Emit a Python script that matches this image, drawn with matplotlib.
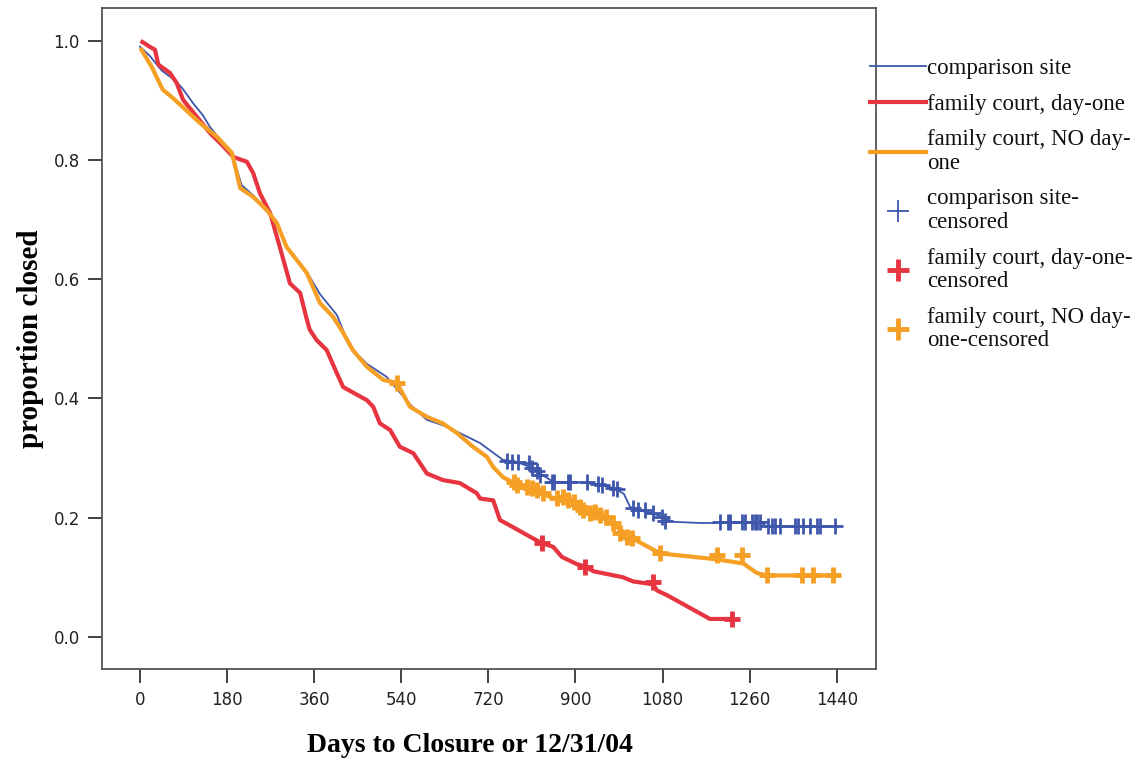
import matplotlib
matplotlib.use("Agg")

import matplotlib.pyplot as plt
from matplotlib.lines import Line2D


# Kaplan-Meier style curves
days_cmp = [0, 20, 45, 70, 87, 110, 130, 145, 170, 190, 200, 210, 235, 262, 283, 303,
            345, 372, 407, 434, 469, 510, 558, 593, 626, 661, 703, 750, 780, 806, 827,
            854, 900, 951, 978, 1000, 1013, 1027, 1060, 1081, 1102, 1157, 1285, 1295, 1440]
p_cmp = [0.99, 0.975, 0.95, 0.935, 0.921, 0.895, 0.875, 0.855, 0.83, 0.812, 0.785, 0.758,
         0.74, 0.716, 0.694, 0.655, 0.612, 0.575, 0.54, 0.486, 0.458, 0.436, 0.39, 0.364,
         0.355, 0.342, 0.325, 0.297, 0.293, 0.285, 0.274, 0.26, 0.26, 0.255, 0.25, 0.24,
         0.218, 0.213, 0.207, 0.201, 0.193, 0.191, 0.191, 0.185, 0.185]

days_d1 = [5, 20, 31, 38, 62, 76, 89, 120, 145, 170, 193, 221, 234, 248, 269, 289, 310,
           331, 345, 351, 365, 386, 407, 420, 469, 482, 496, 517, 537, 565, 593, 626, 661,
           696, 703, 730, 744, 771, 806, 831, 854, 872, 903, 920, 937, 998, 1019, 1061,
           1068, 1089, 1178, 1223]
p_d1 = [0.998, 0.99, 0.985, 0.96, 0.946, 0.929, 0.901, 0.87, 0.845, 0.825, 0.805, 0.797,
        0.778, 0.744, 0.711, 0.654, 0.593, 0.577, 0.532, 0.515, 0.498, 0.481, 0.442, 0.419,
        0.397, 0.386, 0.358, 0.347, 0.319, 0.308, 0.274, 0.263, 0.258, 0.241, 0.232, 0.229,
        0.196, 0.184, 0.168, 0.157, 0.151, 0.134, 0.122, 0.118, 0.11, 0.1, 0.093, 0.088,
        0.078, 0.07, 0.03, 0.03]

days_no = [3, 25, 47, 68, 100, 124, 159, 190, 200, 207, 234, 262, 283, 303, 331, 345, 372,
           399, 420, 440, 469, 503, 531, 558, 593, 626, 655, 688, 717, 730, 750, 764, 785,
           827, 868, 903, 937, 965, 986, 1006, 1016, 1075, 1192, 1247, 1275, 1296, 1440]
p_no = [0.985, 0.955, 0.918, 0.904, 0.88, 0.862, 0.839, 0.812, 0.778, 0.753, 0.738, 0.716,
        0.694, 0.654, 0.625, 0.61, 0.56, 0.537, 0.51, 0.481, 0.453, 0.431, 0.426, 0.386,
        0.369, 0.358, 0.342, 0.319, 0.302, 0.285, 0.268, 0.262, 0.251, 0.241, 0.229, 0.218,
        0.207, 0.196, 0.184, 0.172, 0.166, 0.14, 0.13, 0.123, 0.107, 0.103, 0.103]

# censored observations
cens_cmp_days = [758, 768, 782, 803, 810, 820, 826, 851, 856, 884, 888, 923, 947, 954, 978,
                 985, 1019, 1030, 1044, 1061, 1079, 1085, 1199, 1215, 1220, 1244, 1250, 1265,
                 1271, 1275, 1282, 1298, 1306, 1313, 1323, 1354, 1360, 1371, 1385, 1399,
                 1406, 1437]
cens_cmp_p = [0.295, 0.293, 0.293, 0.291, 0.284, 0.279, 0.272, 0.26, 0.26, 0.26, 0.26, 0.26,
              0.256, 0.254, 0.25, 0.248, 0.216, 0.213, 0.212, 0.207, 0.201, 0.195, 0.192,
              0.192, 0.192, 0.192, 0.192, 0.192, 0.192, 0.192, 0.192, 0.186, 0.186, 0.186,
              0.186, 0.186, 0.186, 0.186, 0.186, 0.186, 0.186, 0.186]

cens_d1_days = [831, 920, 1061, 1223]
cens_d1_p = [0.157, 0.118, 0.092, 0.03]

cens_no_days = [531, 772, 780, 800, 810, 820, 833, 862, 875, 885, 896, 910, 916, 930, 940,
                951, 964, 978, 992, 1006, 1016, 1075, 1192, 1244, 1296, 1368, 1392, 1433]
cens_no_p = [0.426, 0.26, 0.255, 0.251, 0.249, 0.246, 0.241, 0.233, 0.235, 0.229, 0.226,
             0.218, 0.213, 0.207, 0.209, 0.204, 0.201, 0.191, 0.174, 0.168, 0.166, 0.14,
             0.138, 0.138, 0.103, 0.103, 0.103, 0.103]

x_ticks = [0, 180, 360, 540, 720, 900, 1080, 1260, 1440]
y_ticks = [0.0, 0.2, 0.4, 0.6, 0.8, 1.0]

labels = [
    "comparison site",
    "family court, day-one",
    "family court, NO day-\none",
    "comparison site-\ncensored",
    "family court, day-one-\ncensored",
    "family court, NO day-\none-censored",
]

BLUE = "#3d56ac"
RED = "#e63540"
ORANGE = "#f5a025"
SPINE = "#555555"

fig = plt.figure(figsize=(11.42, 7.6), dpi=100)
ax = fig.add_axes([0.0893, 0.1197, 0.6777, 0.8698])

ax.plot(days_cmp, p_cmp, color=BLUE, lw=1.3, zorder=2)
ax.plot(days_d1, p_d1, color=RED, lw=3.0, zorder=3, solid_joinstyle="round")
ax.plot(days_no, p_no, color=ORANGE, lw=3.0, zorder=4, solid_joinstyle="round")

ax.plot(cens_cmp_days, cens_cmp_p, ls="none", marker="+", ms=11, mew=2.0,
        color=BLUE, zorder=5)
ax.plot(cens_d1_days, cens_d1_p, ls="none", marker="+", ms=11, mew=3.5,
        color=RED, zorder=5)
ax.plot(cens_no_days, cens_no_p, ls="none", marker="+", ms=11, mew=3.5,
        color=ORANGE, zorder=5)

ax.set_xlim(-78.5, 1521)
ax.set_ylim(-0.054, 1.055)
ax.set_xticks(x_ticks)
ax.set_yticks(y_ticks)
ax.set_yticklabels([f"{v:.1f}" for v in y_ticks])

for s in ax.spines.values():
    s.set_color(SPINE)
    s.set_linewidth(1.3)
ax.tick_params(direction="out", length=10, width=1.3, color="#333333",
               labelsize=12, labelcolor="#222222", pad=6)
for t in ax.get_xticklabels() + ax.get_yticklabels():
    t.set_family("DejaVu Sans")

ax.set_xlabel("Days to Closure or 12/31/04", family="Liberation Serif",
              fontweight="bold", fontsize=20)
ax.xaxis.set_label_coords(0.4755, -0.097)
ax.set_ylabel("proportion closed", family="Liberation Serif",
              fontweight="bold", fontsize=21, labelpad=7)

handles = [
    Line2D([], [], color=BLUE, lw=1.3),
    Line2D([], [], color=RED, lw=3.0),
    Line2D([], [], color=ORANGE, lw=3.0),
    Line2D([], [], ls="none", marker="+", ms=16, mew=1.3, color=BLUE),
    Line2D([], [], ls="none", marker="+", ms=16, mew=3.5, color=RED),
    Line2D([], [], ls="none", marker="+", ms=16, mew=3.5, color=ORANGE),
]
leg = fig.legend(handles, labels, loc="upper left",
                 bbox_to_anchor=(870 / 1142, 1 - 58 / 760),
                 frameon=False, borderpad=0, borderaxespad=0,
                 handlelength=2.45, handletextpad=0.05, labelspacing=0.64,
                 prop={"family": "Liberation Serif", "size": 16.5})
for t in leg.get_texts():
    t.set_linespacing(1.15)
    t.set_color("#111111")

fig.savefig("out.png", dpi=100)
